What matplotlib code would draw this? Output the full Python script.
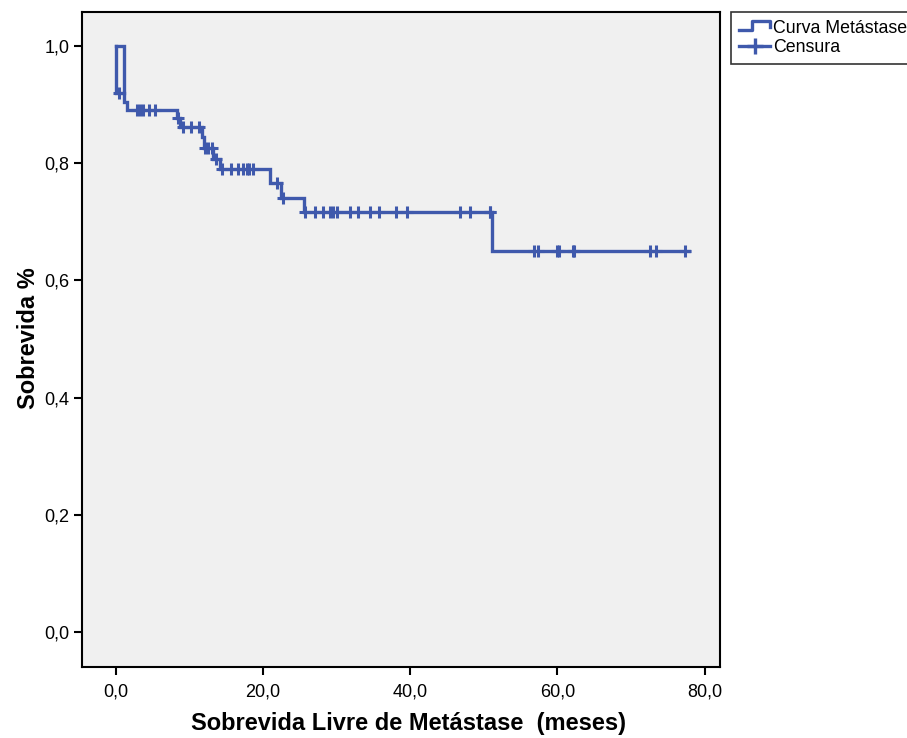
import numpy
import matplotlib
matplotlib.use('Agg')
import matplotlib.pyplot as plt
from matplotlib.lines import Line2D
from matplotlib.legend_handler import HandlerBase
from matplotlib.ticker import FuncFormatter

plt.rcParams['font.family'] = ['Liberation Sans', 'DejaVu Sans']

# Kaplan-Meier steps (time in months, survival after the step)
step_times = [0.0, 1.15, 1.6, 8.3, 8.8, 11.7, 12.0, 13.3, 14.2, 21.0, 22.5, 25.6, 51.2]
step_surv = [1.0, 0.904, 0.890, 0.877, 0.862, 0.845, 0.826, 0.808, 0.790, 0.766, 0.741, 0.716, 0.650]
last_time = 77.9

# the odd little box at the start of the curve
start_box_t = [0.0, 0.0, 1.15]
start_box_s = [1.0, 0.92, 0.92]
start_box_censor = [0.5]

censor_times = [2.9, 3.3, 3.8, 4.6, 5.4, 8.5, 9.1, 10.25, 11.4, 12.2, 12.6, 13.1, 13.6,
                14.4, 15.7, 16.6, 17.3, 17.8, 18.1, 18.7, 21.9, 22.7,
                25.7, 27.1, 28.2, 29.2, 29.6, 30.1, 31.9, 32.9, 34.5, 35.8, 38.1, 39.6,
                46.8, 48.2, 50.8, 50.9,
                56.8, 57.4, 60.0, 60.2, 62.1, 62.3, 72.6, 73.4, 77.4]

x_ticks = [0, 20, 40, 60, 80]
y_ticks = [0.0, 0.2, 0.4, 0.6, 0.8, 1.0]

blue = '#3F59AC'


class StepHandler(HandlerBase):
    def create_artists(self, legend, orig_handle, xdescent, ydescent,
                       width, height, fontsize, trans):
        lo, hi = 0.25 * height, 0.95 * height
        xs = [0, 0.42 * width, 0.42 * width, width, width]
        ys = [lo, lo, hi, hi, 0.5 * height]
        line = Line2D(numpy.array(xs) - xdescent, numpy.array(ys) - ydescent,
                      color=blue, lw=2.4, transform=trans)
        return [line]


figure = plt.figure(figsize=(9.07, 7.38), dpi=100)
ax = figure.add_axes([82 / 907, 1 - 667 / 738, 638 / 907, 655 / 738])
ax.set_facecolor('#F0F0F0')

t = numpy.array(step_times + [last_time])
s = numpy.array(step_surv + [step_surv[-1]])
ax.step(t, s, where='post', color=blue, lw=2.4, solid_joinstyle='miter')
ax.plot(start_box_t, start_box_s, color=blue, lw=2.4, solid_joinstyle='miter')

c = numpy.array(censor_times)
idx = numpy.searchsorted(step_times, c, side='right') - 1
c_s = numpy.array(step_surv)[idx]
ax.plot(c, c_s, ls='none', marker='+', ms=9, mew=2.2, color=blue)
ax.plot(start_box_censor, [start_box_s[-1]] * len(start_box_censor),
        ls='none', marker='+', ms=9, mew=2.2, color=blue)

ax.set_xlim(-4.55, 82.1)
ax.set_ylim(-0.0597, 1.058)
ax.set_xticks(x_ticks)
ax.set_yticks(y_ticks)
comma = FuncFormatter(lambda v, p: f'{v:.1f}'.replace('.', ','))
ax.xaxis.set_major_formatter(comma)
ax.yaxis.set_major_formatter(comma)
ax.tick_params(direction='out', length=6, width=1.5, labelsize=13, pad=3)
ax.tick_params(axis='x', pad=6)
for sp in ax.spines.values():
    sp.set_linewidth(1.5)

ax.set_xlabel('Sobrevida Livre de Metástase  (meses)', fontsize=17, fontweight='bold')
ax.set_ylabel('Sobrevida %', fontsize=17, fontweight='bold')
ax.xaxis.set_label_coords(0.5125, -0.068)
ax.yaxis.set_label_coords(-0.066, 0.502)

handles = [Line2D([], [], color=blue),
           Line2D([], [], color=blue, lw=2.4, marker='+', ms=11, mew=2.4)]
leg = figure.legend(handles, ['Curva Metástase', 'Censura'],
                    handler_map={handles[0]: StepHandler()},
                    loc='upper left', bbox_to_anchor=(731 / 907, 1 - 12 / 738),
                    fontsize=12.8, frameon=True, fancybox=False,
                    edgecolor='black', borderpad=0.45, handlelength=1.75,
                    handletextpad=0.15, labelspacing=0.14, borderaxespad=0)
leg.get_frame().set_linewidth(1.2)

figure.savefig('out.png', dpi=100)
